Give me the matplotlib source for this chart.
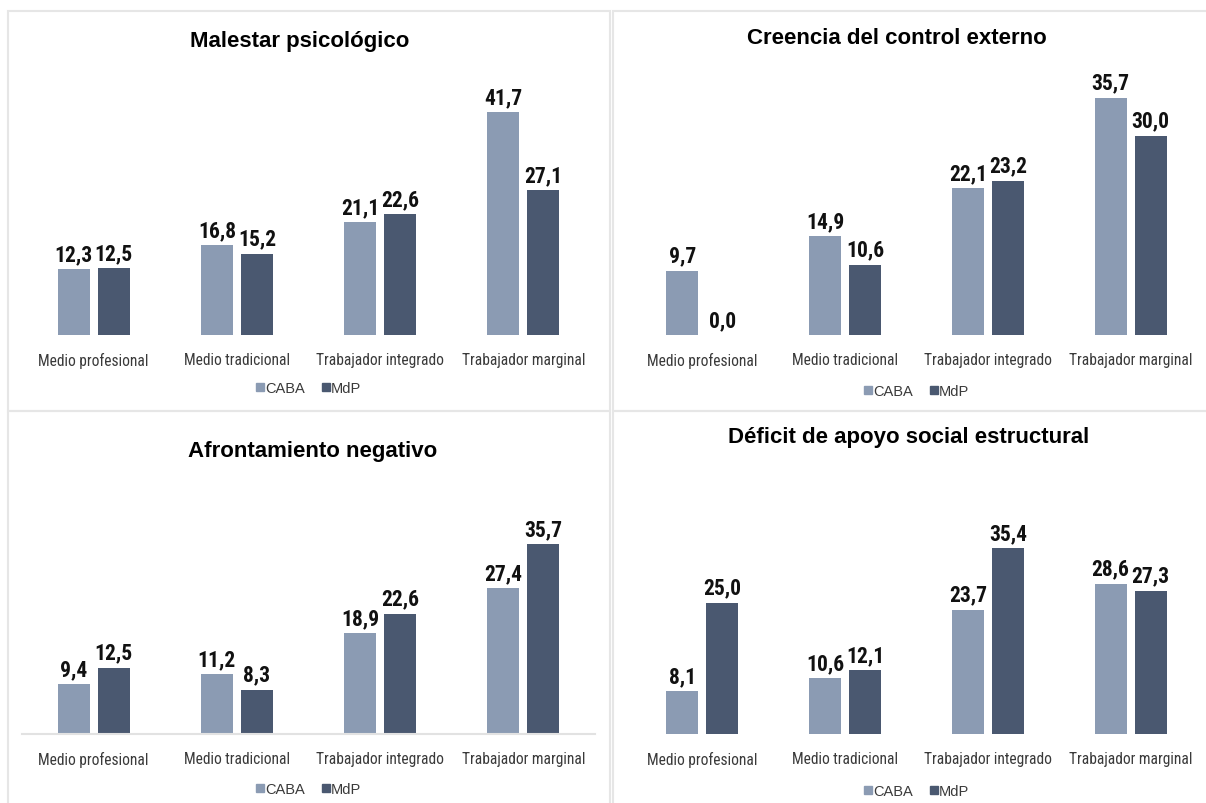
import matplotlib
matplotlib.use("Agg")
import matplotlib.pyplot as plt
import numpy as np
from matplotlib import font_manager
from matplotlib.lines import Line2D
from matplotlib.patches import Rectangle

categories = ["Medio profesional", "Medio tradicional", "Trabajador integrado", "Trabajador marginal"]
series_names = ["CABA", "MdP"]

titles = [
    "Malestar psicológico",
    "Creencia del control externo",
    "Afrontamiento negativo",
    "Déficit de apoyo social estructural",
]
malestar_caba = [12.3, 16.8, 21.1, 41.7]
malestar_mdp = [12.5, 15.2, 22.6, 27.1]
creencia_caba = [9.7, 14.9, 22.1, 35.7]
creencia_mdp = [0.0, 10.6, 23.2, 30.0]
afront_caba = [9.4, 11.2, 18.9, 27.4]
afront_mdp = [12.5, 8.3, 22.6, 35.7]
deficit_caba = [8.1, 10.6, 23.7, 28.6]
deficit_mdp = [25.0, 12.1, 35.4, 27.3]

COLORS = {
    "caba": "#8B9BB3",
    "mdp": "#4A5870",
    "border": "#E6E6E6",
    "axis": "#E2E2E2",
    "label": "#3A3A3A",
    "value": "#111111",
}
REGULAR = ["Liberation Sans", "DejaVu Sans"]

# pick a condensed family if one is installed
installed = {f.name for f in font_manager.fontManager.ttflist}
NARROW = REGULAR
narrow_name = None
for cand in ["Liberation Sans Narrow", "Roboto Condensed", "DejaVu Sans Condensed"]:
    if cand in installed:
        NARROW = [cand, "DejaVu Sans"]
        narrow_name = cand
        break
if narrow_name == "Roboto Condensed":
    cat_size, val_size = 11.2, 15.5
elif narrow_name is not None:
    cat_size, val_size = 12.3, 15.5
else:
    cat_size, val_size = 10.3, 13.5

W, H = 1206, 804
AX_TOP = 60


def fig_box(x0, y0, x1, y1):
    return [x0 / W, 1 - y1 / H, (x1 - x0) / W, (y1 - y0) / H]


# panel layout in pixels: x-range of plot, baseline y, px per unit, title pos, legend offset
panels = [
    dict(caba=malestar_caba, mdp=malestar_mdp, x0=22, x1=595, base=336, ppu=5.34,
         title=(300, 42), leg=53, axis=False),
    dict(caba=creencia_caba, mdp=creencia_mdp, x0=631, x1=1202, base=336, ppu=6.64,
         title=(897, 38), leg=56, axis=False),
    dict(caba=afront_caba, mdp=afront_mdp, x0=22, x1=595, base=735, ppu=5.32,
         title=(313, 452), leg=55, axis=True),
    dict(caba=deficit_caba, mdp=deficit_mdp, x0=631, x1=1202, base=735, ppu=5.25,
         title=(909, 438), leg=57, axis=False),
]

fig = plt.figure(figsize=(W / 100, H / 100), dpi=100, facecolor="white")

# panel frames
for (bx0, by0, bx1, by1) in [(8, 12, 610, 412), (613, 12, 1212, 412),
                             (8, 412, 610, 812), (613, 412, 1212, 812)]:
    l, b, w, h = fig_box(bx0, by0, bx1, by1)
    fig.add_artist(Rectangle((l, b), w, h, transform=fig.transFigure, fill=False,
                             edgecolor=COLORS["border"], linewidth=1.5))

x = np.arange(len(categories))
bar_w = 0.224
off = 0.14

for i, p in enumerate(panels):
    top = AX_TOP if p["base"] < 400 else AX_TOP + 400
    ax = fig.add_axes(fig_box(p["x0"], top, p["x1"], p["base"]))
    ax_h = p["base"] - top
    ax.set_xlim(-0.5, 3.5)
    ax.set_ylim(0, ax_h / p["ppu"])

    b1 = ax.bar(x - off, p["caba"], width=bar_w, color=COLORS["caba"], label=series_names[0])
    b2 = ax.bar(x + off, p["mdp"], width=bar_w, color=COLORS["mdp"], label=series_names[1])
    for bars, vals in [(b1, p["caba"]), (b2, p["mdp"])]:
        ax.bar_label(bars, labels=[f"{v:.1f}".replace(".", ",") for v in vals], padding=3,
                     fontsize=val_size, fontweight="bold", family=NARROW, color=COLORS["value"])

    ax.set_xticks(x, categories)
    ax.tick_params(axis="x", length=0, pad=12, labelsize=cat_size, labelcolor=COLORS["label"])
    for t in ax.get_xticklabels():
        t.set_family(NARROW)
    ax.set_yticks([])
    for s in ["top", "right", "left"]:
        ax.spines[s].set_visible(False)
    if p["axis"]:
        ax.spines["bottom"].set_color(COLORS["axis"])
        ax.spines["bottom"].set_linewidth(1.5)
    else:
        ax.spines["bottom"].set_visible(False)
    ax.patch.set_alpha(0)

    handles = [
        Line2D([], [], marker="s", linestyle="none", markersize=5.5, color=COLORS["caba"]),
        Line2D([], [], marker="s", linestyle="none", markersize=5.5, color=COLORS["mdp"]),
    ]
    ax.legend(handles, series_names, loc="center", bbox_to_anchor=(0.5, -p["leg"] / ax_h),
              ncol=2, frameon=False, handlelength=0.5, handletextpad=0.1, columnspacing=1.2,
              prop={"family": REGULAR, "size": 10.5}, labelcolor=COLORS["label"])

    tx, ty = p["title"]
    fig.text(tx / W, 1 - ty / H, titles[i], ha="center", va="center", fontsize=16,
             fontweight="bold", family=REGULAR, color="black")

fig.savefig("out.png", dpi=100, facecolor="white")
